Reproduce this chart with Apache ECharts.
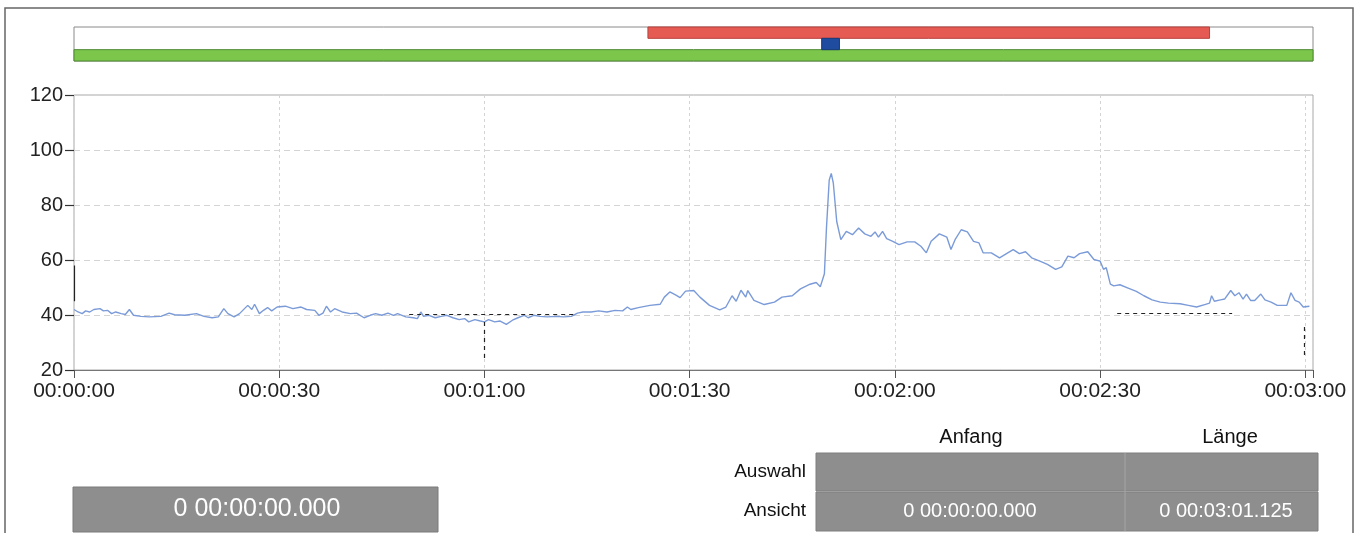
<!DOCTYPE html>
<html>
<head>
<meta charset="utf-8">
<script src="https://cdn.jsdelivr.net/npm/echarts@6/dist/echarts.min.js"></script>
<style>
  html, body { margin: 0; padding: 0; background: #fff; }
  #chart { width: 1360px; height: 533px; }
</style>
</head>
<body>
<div id="chart"></div>
<script>
// Recorded trace: time in seconds and measured value
const timeSec = [
  0.0, 0.6, 1.2, 1.7, 2.3, 2.9, 3.8, 4.3, 4.9, 5.5, 6.1, 6.9, 7.5, 8.1, 8.7, 9.8,
  11.0, 12.7, 13.9, 14.7, 16.2, 17.9, 19.0, 20.2, 21.1, 21.9, 22.5, 23.4, 24.2, 25.4, 26.0, 26.4,
  27.1, 27.7, 28.3, 28.9, 29.7, 30.9, 32.0, 33.2, 34.0, 35.2, 35.8, 36.4, 36.9, 37.5, 38.1, 39.2,
  40.4, 41.3, 42.4, 43.3, 44.1, 45.0, 45.9, 46.7, 47.3, 48.5, 49.6, 50.2, 50.7, 51.1, 51.9, 52.8,
  53.7, 54.5, 55.4, 56.3, 57.1, 57.7, 58.6, 59.4, 60.0, 60.6, 61.5, 62.3, 63.2, 64.1, 64.9, 65.8,
  66.4, 67.2, 68.1, 69.2, 70.4, 71.6, 72.7, 73.6, 74.4, 75.6, 76.7, 77.9, 79.1, 80.2, 80.9, 81.4,
  82.5, 84.2, 85.7, 86.3, 87.1, 88.0, 88.6, 89.4, 90.6, 91.5, 92.9, 94.4, 95.3, 96.2, 96.8, 97.5,
  98.2, 98.5, 99.4, 100.9, 102.4, 103.5, 105.0, 106.2, 107.6, 108.5, 109.1, 109.7, 110.0, 110.4, 110.7, 111.0,
  111.5, 112.1, 112.9, 113.8, 114.7, 115.6, 116.5, 117.1, 117.6, 118.2, 118.8, 119.7, 120.6, 121.8, 122.9, 123.8, 124.6,
  125.3, 126.5, 127.6, 128.2, 128.8, 129.7, 130.6, 131.5, 132.3, 132.9, 134.1, 135.3, 136.5, 137.3, 138.2, 139.1,
  140.0, 141.2, 142.3, 143.5, 144.4, 145.3, 146.2, 147.0, 148.2, 149.1, 150.0, 150.5, 150.9, 151.5, 152.0, 152.9,
  154.1, 155.3, 156.4, 157.6, 158.8, 160.0, 161.7, 162.9, 164.1, 165.3, 166.0, 166.3, 166.7, 167.6, 168.2, 169.1,
  169.7, 170.3, 170.9, 171.4, 172.0, 172.6, 173.5, 174.1, 175.0, 175.9, 177.3, 177.9, 178.5, 179.1, 179.7, 180.6
];
const signal = [
  42.0, 41.1, 40.5, 41.5, 41.1, 42.0, 42.3, 41.5, 41.7, 40.5, 41.1, 40.5, 40.2, 42.0, 39.9, 39.5,
  39.3, 39.5, 40.7, 40.1, 39.9, 40.5, 39.5, 39.0, 39.3, 42.3, 40.5, 39.3, 40.5, 43.5, 42.0, 43.9,
  40.5, 41.7, 42.7, 41.5, 42.9, 43.2, 42.3, 42.9, 42.0, 41.7, 39.9, 40.7, 43.2, 41.1, 42.3, 41.1,
  40.5, 40.7, 39.0, 39.9, 40.5, 39.9, 40.7, 39.9, 40.5, 39.3, 39.0, 38.7, 41.1, 39.5, 39.9, 39.0,
  39.5, 39.9, 39.0, 38.3, 38.7, 37.5, 38.3, 37.8, 37.5, 38.3, 37.5, 37.8, 36.6, 38.1, 39.0, 39.9,
  39.0, 39.9, 39.5, 39.3, 39.5, 39.3, 39.5, 40.7, 41.1, 41.1, 41.5, 41.1, 41.7, 41.5, 42.9, 42.0,
  42.7, 43.5, 43.9, 46.5, 48.4, 47.2, 46.3, 48.7, 48.9, 46.5, 43.5, 41.9, 42.9, 47.0, 45.0, 49.0,
  46.5, 48.9, 45.3, 43.8, 44.7, 46.5, 47.0, 49.5, 51.2, 51.8, 50.3, 55.0, 71.6, 89.0, 91.5, 88.0,
  74.0, 67.4, 70.4, 69.2, 71.6, 69.5, 68.6, 70.2, 68.3, 70.4, 67.8, 66.8, 65.6, 66.6, 66.6, 65.0, 62.6,
  66.8, 69.5, 68.3, 63.8, 67.4, 71.0, 70.2, 66.8, 66.2, 62.6, 62.6, 60.8, 62.6, 63.8, 62.3, 63.0,
  60.8, 59.6, 58.4, 56.6, 57.5, 61.4, 60.8, 62.3, 63.0, 60.2, 59.6, 56.6, 57.2, 51.2, 50.6, 51.0,
  49.8, 48.6, 47.0, 45.5, 44.7, 44.3, 44.1, 43.5, 42.9, 43.8, 44.3, 47.0, 45.0, 45.5, 45.8, 48.9,
  47.0, 48.1, 45.8, 47.6, 45.3, 45.3, 47.6, 45.5, 44.7, 43.5, 43.5, 48.1, 45.3, 44.7, 42.9, 43.2
];

// Axis ranges (seconds / value)
const viewLengthSec = 181.125;
const xStepSec = 30;
const yMin = 20, yMax = 120, yStep = 20;

// Timeline strip above the trace: start, end (s) and row (0 bottom .. 2 top)
const segStart = [0, 83.9, 109.3];
const segEnd = [181.125, 166.0, 111.9];
const segRow = [0, 2, 1];

// Guide lines inside the plot (in data units)
const guideHoriz = [[49.0, 73.0, 40.3], [152.5, 169.3, 40.7]];   // [t0, t1, value]
const guideVert = [[60.0, 37.5, 23.0], [179.9, 35.6, 24.4]];     // [t, v0, v1]
const cursorMark = [0, 58.0, 45.0];                               // [t, v0, v1]

// Info panel texts
const cursorText = '0 00:00:00.000';
const tableHeaders = ['Anfang', 'Länge'];
const tableRows = ['Auswahl', 'Ansicht'];
const viewStartText = '0 00:00:00.000';
const viewLengthText = '0 00:03:01.125';

const FONT = '"Liberation Sans", Arial, sans-serif';
// fill / outline per timeline row: bottom green, middle blue, top red
const rowFill = ['#7cc64b', '#1f4c9e', '#e55a52'];
const rowStroke = ['#4f8a33', '#163a7a', '#b8423d'];

function fmtTime(v) {
  const s = Math.round(v);
  const mm = String(Math.floor(s / 60)).padStart(2, '0');
  const ss = String(s % 60).padStart(2, '0');
  return '00:' + mm + ':' + ss;
}

const traceData = timeSec.map((t, i) => [t, signal[i]]);
const segData = segStart.map((s, i) => [s, segEnd[i], segRow[i]]);

const markLines = [];
guideHoriz.forEach(g => markLines.push([{ coord: [g[0], g[2]] }, { coord: [g[1], g[2]] }]));
guideVert.forEach(g => markLines.push([{ coord: [g[0], g[1]] }, { coord: [g[0], g[2]] }]));
markLines.push([
  { coord: [cursorMark[0], cursorMark[1]], lineStyle: { type: 'solid', color: '#222', width: 1.2 } },
  { coord: [cursorMark[0], cursorMark[2]] }
]);

const chart = echarts.init(document.getElementById('chart'), null, { renderer: 'canvas' });

const gridLeft = 74, gridRight = 47;

chart.setOption({
  animation: false,
  backgroundColor: '#fff',
  grid: [
    { left: gridLeft, right: gridRight, top: 95, height: 275,
      show: true, borderColor: '#a8a8a8', borderWidth: 1 },
    { left: gridLeft, right: gridRight, top: 27, height: 34,
      show: true, borderColor: '#8a8a8a', borderWidth: 1 }
  ],
  xAxis: [
    {
      gridIndex: 0, type: 'value', min: 0, max: viewLengthSec, interval: xStepSec,
      axisLine: { show: true, onZero: false, lineStyle: { color: '#777', width: 1.2 } },
      axisTick: { show: true, length: 8, lineStyle: { color: '#555' } },
      axisLabel: {
        color: '#222', fontFamily: FONT, fontSize: 21, margin: 11,
        formatter: v => (Math.abs(v % xStepSec) < 1e-6 ? fmtTime(v) : '')
      },
      splitLine: { show: true, lineStyle: { color: '#d4d4d4', type: [3, 3], width: 1 } }
    },
    {
      gridIndex: 1, type: 'value', min: 0, max: viewLengthSec, show: false
    }
  ],
  yAxis: [
    {
      gridIndex: 0, type: 'value', min: yMin, max: yMax, interval: yStep,
      axisLine: { show: false },
      axisTick: { show: true, length: 9, lineStyle: { color: '#333', width: 1.2 } },
      axisLabel: { color: '#222', fontFamily: FONT, fontSize: 20, margin: 11 },
      splitLine: { show: true, lineStyle: { color: '#d4d4d4', type: [6, 4], width: 1 } }
    },
    {
      gridIndex: 1, type: 'category', data: ['0', '1', '2'], show: false
    }
  ],
  series: [
    {
      type: 'line',
      xAxisIndex: 0, yAxisIndex: 0,
      data: traceData,
      showSymbol: false,
      lineStyle: { color: '#7b9bd8', width: 1.4 },
      markLine: {
        silent: true,
        symbol: ['none', 'none'],
        label: { show: false },
        lineStyle: { color: '#222', type: [4, 4], width: 1.2 },
        data: markLines
      },
      z: 3
    },
    {
      type: 'custom',
      xAxisIndex: 1, yAxisIndex: 1,
      data: segData,
      encode: { x: [0, 1], y: 2 },
      renderItem: (params, api) => {
        const row = api.value(2);
        const a = api.coord([api.value(0), row]);
        const b = api.coord([api.value(1), row]);
        const h = api.size([0, 1])[1];
        return {
          type: 'rect',
          shape: { x: a[0], y: a[1] - h / 2, width: b[0] - a[0], height: h },
          style: { fill: rowFill[row], stroke: rowStroke[row], lineWidth: 1 }
        };
      }
    }
  ],
  graphic: [
    // outer frame
    { type: 'rect', shape: { x: 5, y: 8, width: 1348, height: 540 },
      style: { fill: 'none', stroke: '#666', lineWidth: 1.5 }, silent: true },
    // cursor time box
    { type: 'rect', shape: { x: 73, y: 487, width: 365, height: 45 },
      style: { fill: '#8e8e8e', stroke: '#7a7a7a', lineWidth: 1 } },
    { type: 'text', x: 257, y: 509,
      style: { text: cursorText, fill: '#fff', font: '25px ' + FONT, align: 'center', verticalAlign: 'middle' } },
    // selection / view table
    { type: 'rect', shape: { x: 816, y: 453, width: 502, height: 38 },
      style: { fill: '#8e8e8e', stroke: '#7f7f7f', lineWidth: 1 } },
    { type: 'rect', shape: { x: 816, y: 492, width: 502, height: 39 },
      style: { fill: '#8e8e8e', stroke: '#7f7f7f', lineWidth: 1 } },
    { type: 'line', shape: { x1: 1125, y1: 453, x2: 1125, y2: 531 },
      style: { stroke: '#a5a5a5', lineWidth: 1 } },
    { type: 'text', x: 971, y: 437,
      style: { text: tableHeaders[0], fill: '#111', font: '20px ' + FONT, align: 'center', verticalAlign: 'middle' } },
    { type: 'text', x: 1230, y: 437,
      style: { text: tableHeaders[1], fill: '#111', font: '20px ' + FONT, align: 'center', verticalAlign: 'middle' } },
    { type: 'text', x: 806, y: 472,
      style: { text: tableRows[0], fill: '#111', font: '19px ' + FONT, align: 'right', verticalAlign: 'middle' } },
    { type: 'text', x: 806, y: 511,
      style: { text: tableRows[1], fill: '#111', font: '19px ' + FONT, align: 'right', verticalAlign: 'middle' } },
    { type: 'text', x: 970, y: 511,
      style: { text: viewStartText, fill: '#fff', font: '20px ' + FONT, align: 'center', verticalAlign: 'middle' } },
    { type: 'text', x: 1226, y: 511,
      style: { text: viewLengthText, fill: '#fff', font: '20px ' + FONT, align: 'center', verticalAlign: 'middle' } }
  ]
});
</script>
</body>
</html>
